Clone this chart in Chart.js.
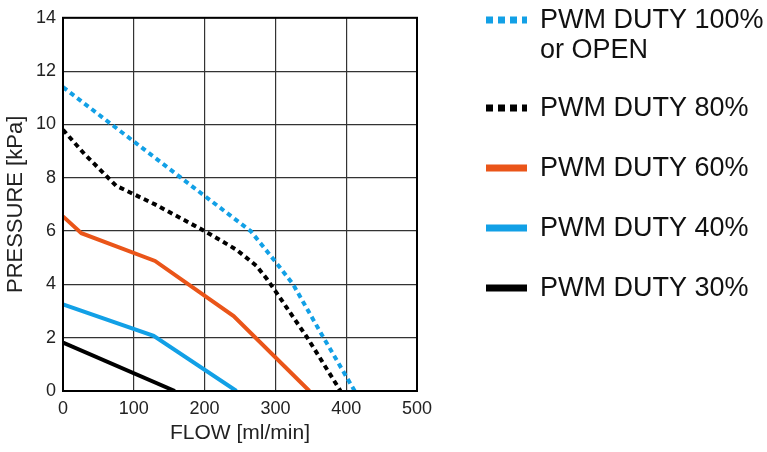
<!DOCTYPE html>
<html>
<head>
<meta charset="utf-8">
<script src="https://cdn.jsdelivr.net/npm/chart.js@4.4.1/dist/chart.umd.min.js"></script>
<style>
  html, body { margin: 0; padding: 0; background: #fff; }
  #wrap { width: 767px; height: 452px; }
</style>
</head>
<body>
<div id="wrap"><canvas id="pq"></canvas></div>
<script>
// flow [ml/min] / pressure [kPa]
const duty100Flow = [0, 100, 200, 265, 300, 325, 368, 412];
const duty100Pres = [11.4, 9.36, 7.32, 6.0, 4.85, 4.0, 2.0, 0];

const duty80Flow = [0, 30, 60, 75, 130, 200, 245, 273, 288, 300, 345, 392];
const duty80Pres = [9.8, 8.9, 8.1, 7.7, 7.0, 6.0, 5.3, 4.7, 4.2, 3.75, 2.0, 0];

const duty60Flow = [0, 26, 130, 241, 348];
const duty60Pres = [6.55, 5.92, 4.88, 2.81, 0];

const duty40Flow = [0, 128, 245];
const duty40Pres = [3.25, 2.07, 0];

const duty30Flow = [0, 158];
const duty30Pres = [1.82, 0];

const legendNames = ['PWM DUTY 100%\nor OPEN', 'PWM DUTY 80%', 'PWM DUTY 60%', 'PWM DUTY 40%', 'PWM DUTY 30%'];
const xTicks = [0, 100, 200, 300, 400, 500];

const BLUE = '#12a0e6';
const ORANGE = '#ea5519';
const BLACK = '#000000';
const FONT = '"Liberation Sans", Arial, sans-serif';

function pts(xs, ys) {
    return xs.map((x, i) => ({ x: x, y: ys[i] }));
}

// legend drawn by hand so it sits like the original (two-line first entry)
const sideLegend = {
    id: 'sideLegend',
    afterDraw(chart) {
        const ctx = chart.ctx;
        let y = 20;
        ctx.save();
        ctx.font = '27px ' + FONT;
        ctx.textBaseline = 'middle';
        ctx.fillStyle = '#111';
        chart.data.datasets.forEach(ds => {
            const lines = ds.label.split('\n');
            ctx.beginPath();
            ctx.strokeStyle = ds.borderColor;
            ctx.lineWidth = 7;
            ctx.lineCap = 'butt';
            ctx.setLineDash(ds.borderDash && ds.borderDash.length ? [7, 5] : []);
            ctx.moveTo(486, y);
            ctx.lineTo(527, y);
            ctx.stroke();
            ctx.setLineDash([]);
            lines.forEach((t, k) => {
                ctx.fillText(t, 540, y + 1 + k * 30);
            });
            y += 60 + (lines.length - 1) * 28;
        });
        ctx.restore();
    }
};

const ctx = document.getElementById('pq').getContext('2d');
const pqChart = new Chart(ctx, {
    type: 'line',
    data: {
        datasets: [
            { label: legendNames[0], data: pts(duty100Flow, duty100Pres), borderColor: BLUE, borderDash: [5, 4], borderWidth: 4 },
            { label: legendNames[1], data: pts(duty80Flow, duty80Pres), borderColor: BLACK, borderDash: [5, 4], borderWidth: 4 },
            { label: legendNames[2], data: pts(duty60Flow, duty60Pres), borderColor: ORANGE, borderWidth: 4 },
            { label: legendNames[3], data: pts(duty40Flow, duty40Pres), borderColor: BLUE, borderWidth: 4 },
            { label: legendNames[4], data: pts(duty30Flow, duty30Pres), borderColor: BLACK, borderWidth: 4 }
        ]
    },
    options: {
        responsive: true,
        maintainAspectRatio: false,
        animation: false,
        elements: {
            point: { radius: 0 },
            line: { tension: 0, borderCapStyle: 'butt', borderJoinStyle: 'miter' }
        },
        layout: { padding: { top: 13, right: 350, bottom: 0, left: 0 } },
        plugins: {
            legend: { display: false },
            tooltip: { enabled: false }
        },
        scales: {
            x: {
                type: 'linear',
                min: 0,
                max: 500,
                afterBuildTicks: s => { s.ticks = xTicks.map(v => ({ value: v })); },
                afterFit: s => { s.height = 61; },
                grid: { color: '#333', lineWidth: 1.2, drawTicks: false },
                border: { color: '#000', width: 2 },
                ticks: {
                    padding: 7,
                    color: '#222',
                    font: { family: FONT, size: 18 }
                },
                title: {
                    display: true,
                    text: 'FLOW [ml/min]',
                    color: '#222',
                    padding: { top: 0, bottom: 6 },
                    font: { family: FONT, size: 21 }
                }
            },
            y: {
                min: 0,
                max: 14,
                ticks: {
                    stepSize: 2,
                    padding: 7,
                    color: '#222',
                    font: { family: FONT, size: 18 }
                },
                afterFit: s => { s.width = 63; },
                grid: { color: '#333', lineWidth: 1.2, drawTicks: false },
                border: { color: '#000', width: 2 },
                title: {
                    display: true,
                    text: 'PRESSURE [kPa]',
                    color: '#222',
                    padding: { top: 3, bottom: 0 },
                    font: { family: FONT, size: 22 }
                }
            }
        }
    },
    plugins: [sideLegend, {
        // close the frame on top and right like the reference
        id: 'frame',
        afterDraw(chart) {
            const a = chart.chartArea;
            const c = chart.ctx;
            c.save();
            c.strokeStyle = '#000';
            c.lineWidth = 2;
            c.strokeRect(a.left, a.top, a.right - a.left, a.bottom - a.top);
            c.restore();
        }
    }]
});
</script>
</body>
</html>
